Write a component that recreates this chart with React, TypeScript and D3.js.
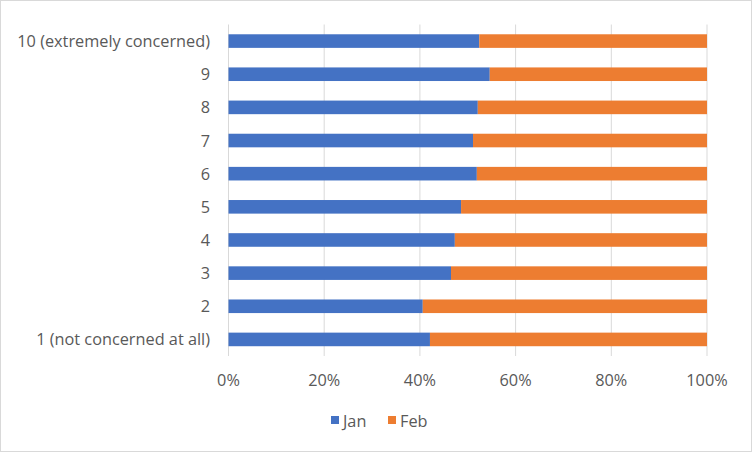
import React from "react";
import * as d3 from "d3";

const categories = [
  "10 (extremely concerned)",
  "9",
  "8",
  "7",
  "6",
  "5",
  "4",
  "3",
  "2",
  "1 (not concerned at all)",
];
const janValues = [52.4, 54.6, 52.1, 51.1, 51.9, 48.6, 47.3, 46.5, 40.6, 42.1];
const febValues = janValues.map((v) => 100 - v);
const seriesNames = ["Jan", "Feb"];
const seriesColors = ["#4472C4", "#ED7D31"];
const xTicks = [0, 0.2, 0.4, 0.6, 0.8, 1];

export default function App() {
  const W = 752;
  const H = 452;
  const left = 228.5;
  const right = 707;
  const top = 24.5;
  const bottom = 356;
  const font = "'Open Sans', 'Liberation Sans', sans-serif";
  const fs = 16.3;

  const x = d3.scaleLinear().domain([0, 1]).range([left, right]);
  const y = d3
    .scaleBand<string>()
    .domain(categories)
    .range([top, bottom])
    .paddingInner(0.59)
    .paddingOuter(0.295);

  const rows = categories.map((c, i) => {
    const total = janValues[i] + febValues[i];
    return { c, j: janValues[i] / total, f: febValues[i] / total };
  });

  const fmt = d3.format(".0%");

  return (
    <svg
      width={W}
      height={H}
      style={{ position: "absolute", left: 0, top: 0, background: "#fff" }}
      fontFamily={font}
    >
      <rect x={0.5} y={0.5} width={W - 1} height={H - 1} fill="#fff" stroke="#d9d9d9" />
      {xTicks.map((t) => (
        <line
          key={t}
          x1={x(t)}
          x2={x(t)}
          y1={top}
          y2={bottom}
          stroke="#d9d9d9"
          strokeWidth={1}
        />
      ))}
      {rows.map((r) => (
        <g key={r.c}>
          <rect x={x(0)} y={y(r.c)} width={x(r.j) - x(0)} height={y.bandwidth()} fill={seriesColors[0]} />
          <rect x={x(r.j)} y={y(r.c)} width={x(1) - x(r.j)} height={y.bandwidth()} fill={seriesColors[1]} />
          <text
            x={210}
            y={(y(r.c) as number) + y.bandwidth() / 2}
            textAnchor="end"
            dominantBaseline="central"
            fontSize={fs}
            fill="#595959"
          >
            {r.c}
          </text>
        </g>
      ))}
      {xTicks.map((t) => (
        <text
          key={"l" + t}
          x={x(t)}
          y={380}
          textAnchor="middle"
          dominantBaseline="central"
          fontSize={fs}
          fill="#595959"
        >
          {fmt(t)}
        </text>
      ))}
      {seriesNames.map((s, i) => {
        const lx = [331, 388][i];
        return (
          <g key={s}>
            <rect x={lx} y={416} width={8} height={8} fill={seriesColors[i]} />
            <text x={lx + 12} y={421} dominantBaseline="central" fontSize={fs} fill="#595959">
              {s}
            </text>
          </g>
        );
      })}
    </svg>
  );
}
